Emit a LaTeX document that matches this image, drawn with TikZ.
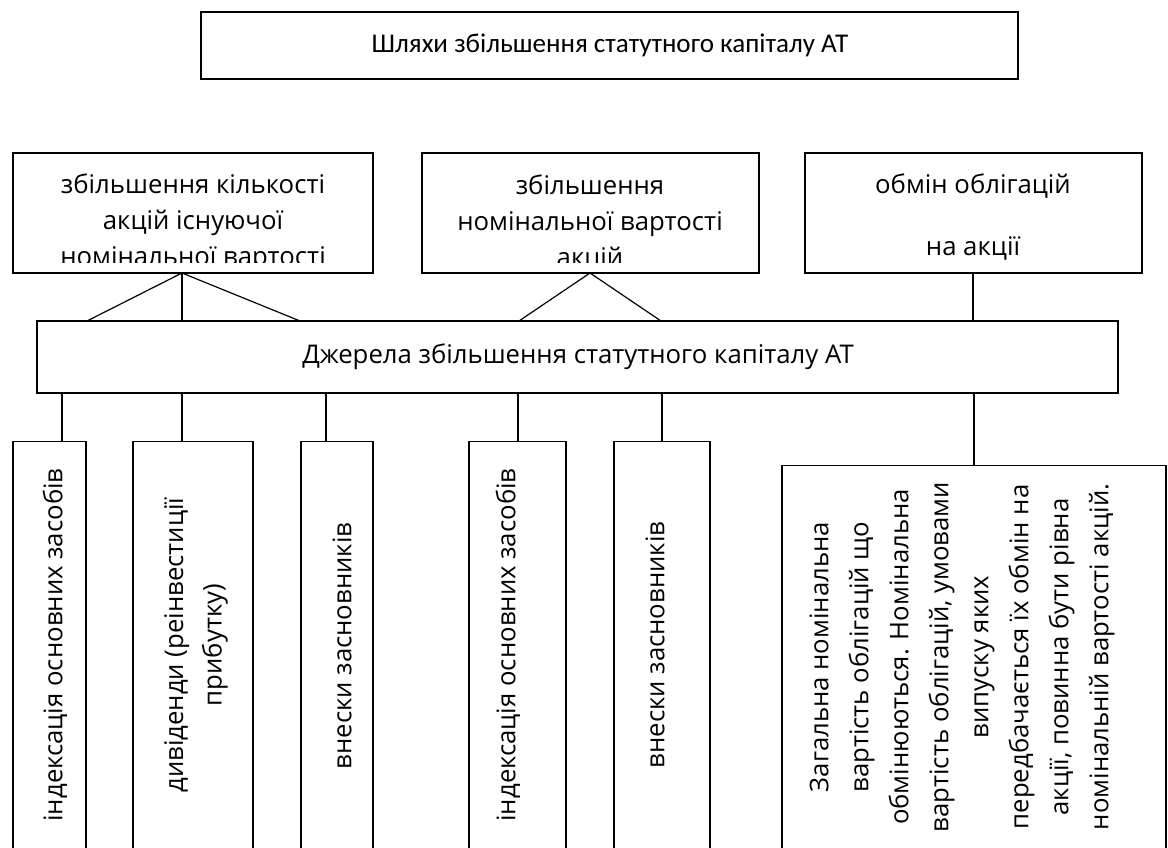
\documentclass[tikz,border=0pt]{standalone}
\usepackage{fontspec}
\setmainfont{Open Sans}
\newfontfamily\titlefont{Carlito}
\begin{document}
\begin{tikzpicture}[x=0.75pt,y=-0.75pt,
  box/.style={draw=black,line width=0.9pt,inner sep=0pt,fill=none},
  txt/.style={font=\fontsize{19.3}{27}\selectfont,align=center,inner sep=0pt},
  vtxt/.style={font=\fontsize{19.3}{29}\selectfont,align=center,inner sep=0pt,rotate=90},
  conn/.style={draw=black,line width=0.9pt}]
\useasboundingbox (0,0) rectangle (1168,848);
\clip (0,0) rectangle (1168,848);
% title
\node[box,minimum width=612.75pt,minimum height=50.25pt] (T) at (609.5,45.5) {};
\node[font=\titlefont\fontsize{20.3}{24}\selectfont,inner sep=0pt] (Tt) at (610,45) {Шляхи збільшення статутного капіталу АТ};
% top boxes
\node[box,minimum width=270pt,minimum height=90pt] (A) at (193,213) {};
\node[box,minimum width=252.75pt,minimum height=90pt] (B) at (590.5,213) {};
\node[box,minimum width=252.75pt,minimum height=90pt] (C) at (973.5,213) {};
\begin{scope}
\clip (13,153) rectangle (373,263);
\node[txt] (At) at (193,223) {збільшення кількості\\акцій існуючої\\номінальної вартості};
\end{scope}
\begin{scope}
\clip (422,153) rectangle (759,263);
\node[txt] (Bt) at (590,223) {збільшення\\номінальної вартості\\акцій};
\end{scope}
\node[txt] (Ct) at (973,217) {обмін облігацій\\[20pt]на акції};
% main
\node[box,minimum width=810.75pt,minimum height=54pt] (M) at (577.5,357) {};
\node[txt] (Mt) at (578,357) {Джерела збільшення статутного капіталу АТ};
% bottom boxes
\node[box,minimum width=54.75pt,minimum height=400pt,anchor=north] (b1) at (49.5,441) {};
\node[box,minimum width=90pt,minimum height=400pt,anchor=north] (b2) at (193,441) {};
\node[box,minimum width=54pt,minimum height=400pt,anchor=north] (b3) at (337,441) {};
\node[box,minimum width=72.75pt,minimum height=400pt,anchor=north] (b4) at (517.5,441) {};
\node[box,minimum width=72pt,minimum height=400pt,anchor=north] (b5) at (662,441) {};
\node[box,minimum width=288pt,minimum height=400pt,anchor=north] (b6) at (974,465) {};
\node[vtxt] (t1) at (55,645) {індексація основних засобів};
\node[vtxt] (t2) at (196,645) {дивіденди (реінвестиції\\прибутку)};
\node[vtxt] (t3) at (342,646) {внески засновників};
\node[vtxt] (t4) at (508,645) {індексація основних засобів};
\node[vtxt] (t5) at (655,645) {внески засновників};
\node[vtxt,font=\fontsize{19.3}{30}\selectfont] (t6) at (962,657) {Загальна номінальна\\вартість облігацій що\\обмінюються. Номінальна\\вартість облігацій, умовами\\випуску яких\\передбачається їх обмін на\\акції, повинна бути рівна\\номінальній вартості акцій.};
% connectors top
\coordinate (aA) at (182,273);
\coordinate (aB) at (590,273);
\coordinate (aC) at (973,273);
\coordinate (m1) at (87,321);
\coordinate (m2) at (182,321);
\coordinate (m3) at (300,321);
\coordinate (m4) at (519,321);
\coordinate (m5) at (661,321);
\draw[conn] (aA) -- (m1);
\draw[conn] (aA) -- (m2);
\draw[conn] (aA) -- (m3);
\draw[conn] (aB) -- (m4);
\draw[conn] (aB) -- (m5);
\draw[conn] (aC) -- (aC |- M.north);
% connectors bottom
\coordinate (c1) at (62,393);
\coordinate (c2) at (182,393);
\coordinate (c3) at (326,393);
\coordinate (c4) at (518,393);
\coordinate (c5) at (662,393);
\coordinate (c6) at (974,393);
\draw[conn] (c1) -- (c1 |- b1.north);
\draw[conn] (c2) -- (c2 |- b2.north);
\draw[conn] (c3) -- (c3 |- b3.north);
\draw[conn] (c4) -- (c4 |- b4.north);
\draw[conn] (c5) -- (c5 |- b5.north);
\draw[conn] (c6) -- (c6 |- b6.north);
\end{tikzpicture}
\end{document}
